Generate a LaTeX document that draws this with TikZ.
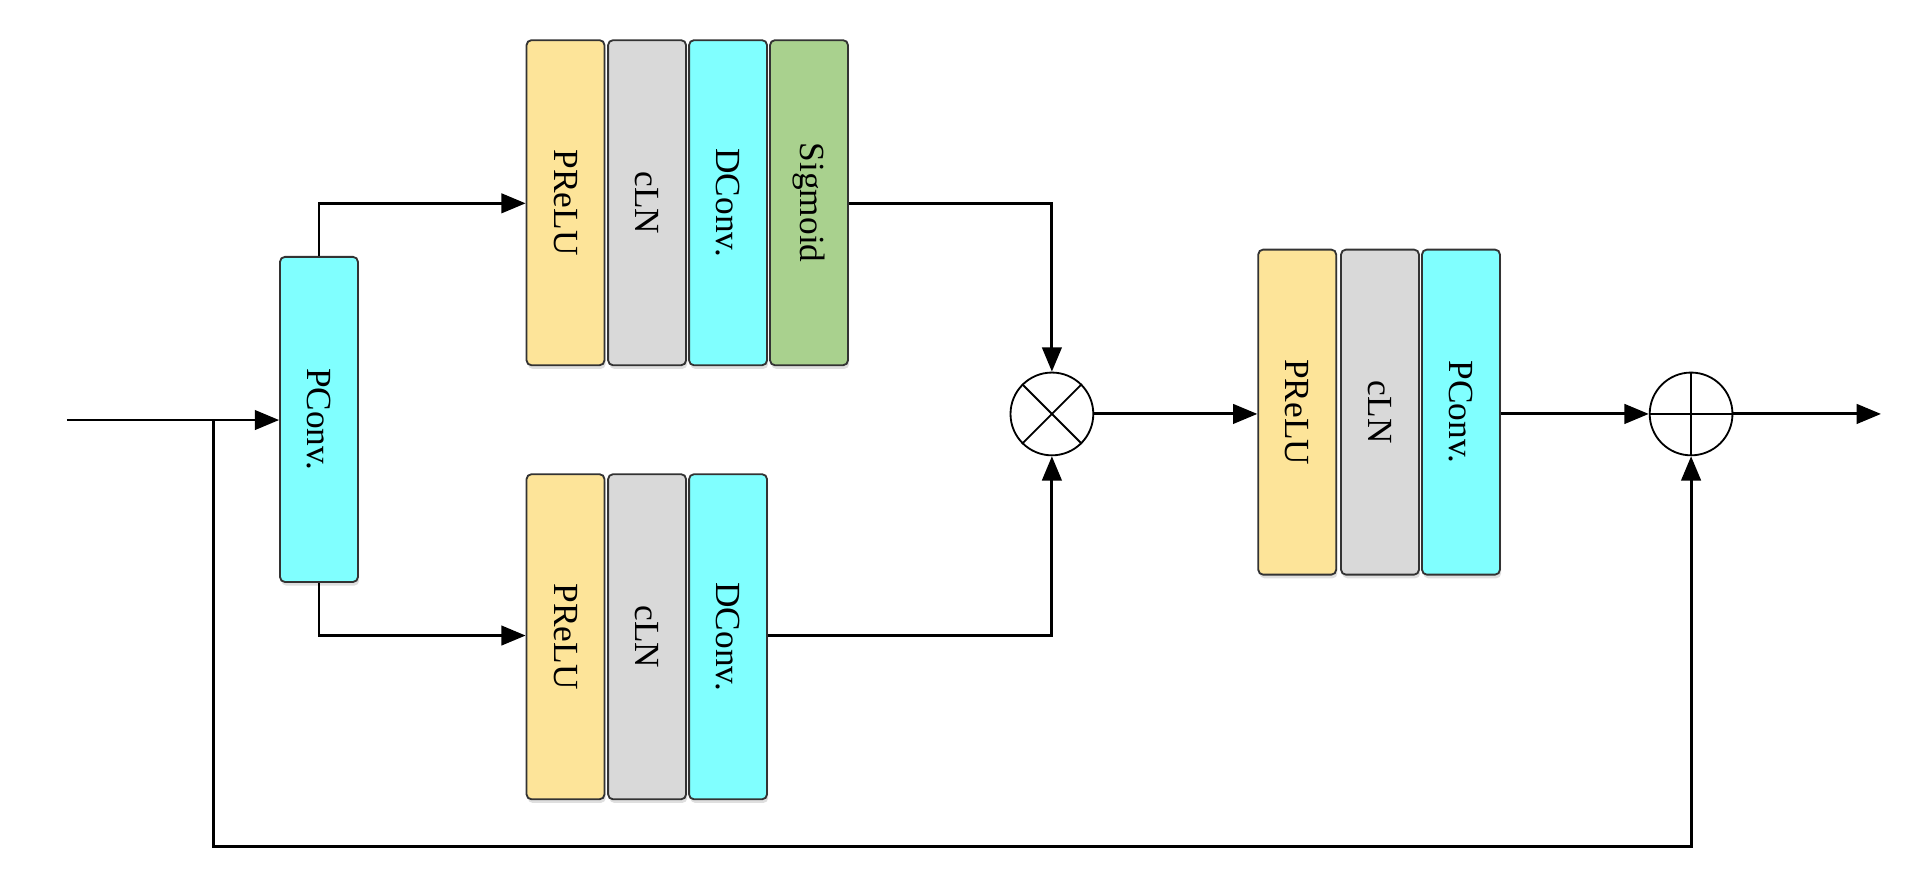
\documentclass[tikz,border=0pt]{standalone}
\usepackage{fontspec}
\setmainfont{Liberation Serif}
\usetikzlibrary{arrows.meta,shadows}
\definecolor{cy}{HTML}{FDE499}
\definecolor{cg}{HTML}{D9D9D9}
\definecolor{cc}{HTML}{80FFFF}
\definecolor{cgr}{HTML}{A9D18E}
\begin{document}
\begin{tikzpicture}[x=1pt,y=-1pt,
 blk/.style={draw=black!80,line width=1.5pt,rounded corners=4pt,minimum width=64pt,minimum height=267pt,inner sep=0pt,drop shadow={shadow xshift=1pt,shadow yshift=-3pt,opacity=0.25}},
 lbl/.style={rotate=-90,font=\fontsize{29}{33}\selectfont},
 op/.style={draw,circle,line width=1.5pt,minimum size=68pt,inner sep=0pt},
 ar/.style={line width=2.4pt,-{Triangle[length=20pt,width=16pt]}}]
\useasboundingbox (0,0) rectangle (1568,726);
\node[blk,fill=cc] (pc) at (262,344.5) {};
\node[lbl] at (pc) {PConv.};
\foreach \n/\x/\c/\t in {a1/464.5/cy/PReLU,a2/531.5/cg/cLN,a3/598/cc/DConv.,a4/664.5/cgr/Sigmoid}{
 \node[blk,fill=\c] (\n) at (\x,166.5) {}; \node[lbl] at (\n) {\t};}
\foreach \n/\x/\c/\t in {b1/464.5/cy/PReLU,b2/531.5/cg/cLN,b3/598/cc/DConv.}{
 \node[blk,fill=\c] (\n) at (\x,523) {}; \node[lbl] at (\n) {\t};}
\foreach \n/\x/\c/\t in {c1/1065.5/cy/PReLU,c2/1133.5/cg/cLN,c3/1200/cc/PConv.}{
 \node[blk,fill=\c] (\n) at (\x,338.5) {}; \node[lbl] at (\n) {\t};}
\node[op] (mul) at (864,340) {};
\draw[line width=1.5pt] (mul.north west)--(mul.south east) (mul.north east)--(mul.south west);
\node[op] (add) at (1389,340) {};
\draw[line width=1.5pt] (add.north)--(add.south) (add.west)--(add.east);
\coordinate (in) at (55,345);
\coordinate (out) at (1545,340);
\coordinate (sk) at (175,345);
\coordinate (skb) at (175,695);
\draw[ar] (in) -- (pc.west|-in);
\draw[ar] (pc.north) |- (a1.west|-0,167);
\draw[ar] (pc.south) |- (b1.west|-0,522);
\draw[ar] (a4.east|-0,167) -| (mul.north);
\draw[ar] (b3.east|-0,522) -| (mul.south);
\draw[ar] (mul.east) -- (c1.west|-mul);
\draw[ar] (c3.east|-add) -- (add.west);
\draw[ar] (add.east) -- (out);
\draw[ar] (sk) -- (skb) -| (add.south);
\end{tikzpicture}
\end{document}
